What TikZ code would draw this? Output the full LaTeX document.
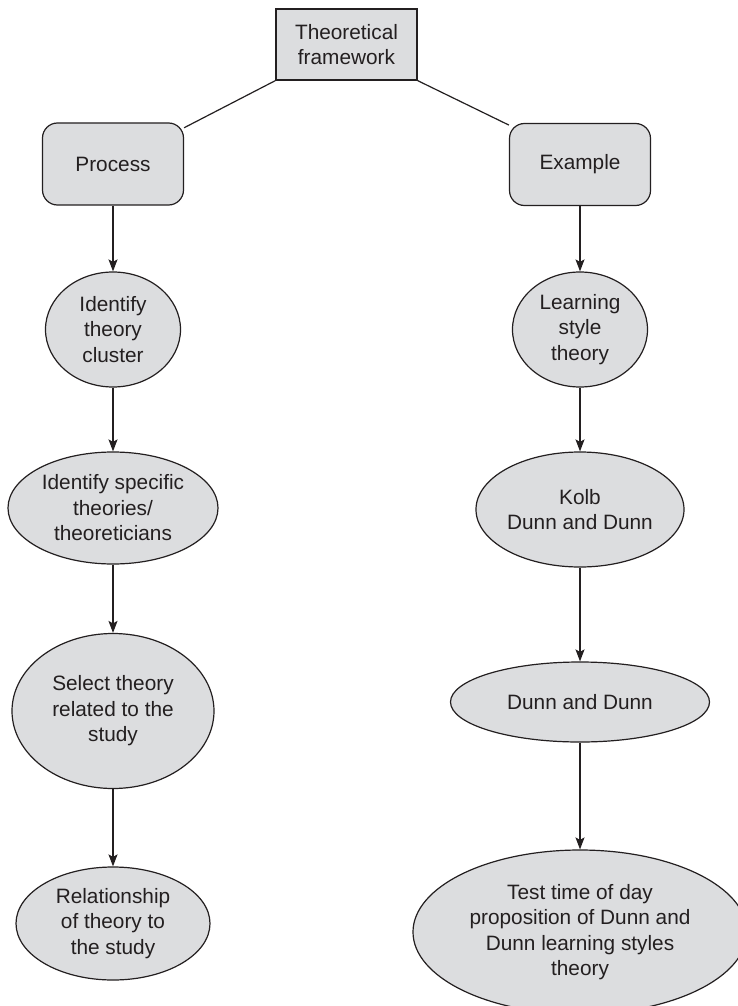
\documentclass[tikz,border=0pt]{standalone}
\usepackage{fontspec}
\setmainfont{Liberation Sans}
\usetikzlibrary{arrows.meta,shapes.geometric}
\definecolor{boxfill}{HTML}{DCDDDF}
\definecolor{ink}{HTML}{231F20}
\begin{document}
\begin{tikzpicture}[x=1pt,y=-1pt,
  every node/.style={font=\fontsize{20.8}{25.5}\selectfont, text=ink, align=center, inner sep=0pt},
  topbox/.style={draw=ink, line width=1.2pt, fill=boxfill, rectangle, minimum width=141pt, minimum height=71pt},
  rbox/.style={draw=ink, line width=1.2pt, fill=boxfill, rectangle, rounded corners=15pt, minimum width=141pt, minimum height=82pt},
  oval/.style={draw=ink, line width=1.2pt, fill=boxfill, ellipse},
  link/.style={draw=ink, line width=1.2pt},
  flow/.style={draw=ink, line width=1.2pt, -{Stealth[length=12pt,width=9pt,inset=2.5pt]}}]
\clip (0,0) rectangle (738,1006);
\fill[white] (0,0) rectangle (738,1006);

\node[topbox] (tf) at (346.5,44.5) {Theoretical\\framework};
\node[rbox] (proc) at (113,164) {Process};
\node[rbox] (ex) at (580,164.5) {Example};

\node[oval, minimum width=135pt, minimum height=115pt] (idc) at (113,329.5) {Identify\\theory\\cluster};
\node[oval, minimum width=210pt, minimum height=112pt] (ids) at (113,508) {Identify specific\\theories/\\theoreticians};
\node[oval, minimum width=202pt, minimum height=155pt] (sel) at (113,711) {Select theory\\related to the\\study};
\node[oval, minimum width=194pt, minimum height=113pt] (rel) at (113,923.5) {Relationship\\of theory to\\the study};

\node[oval, minimum width=135pt, minimum height=115pt] (lst) at (580,329.5) {Learning\\style\\theory};
\node[oval, minimum width=208pt, minimum height=115pt] (kolb) at (580,509.5) {Kolb\\Dunn and Dunn};
\node[oval, minimum width=259pt, minimum height=80pt] (dd) at (580,702) {Dunn and Dunn};
\node[oval, minimum width=334pt, minimum height=164pt] (test) at (580,932) {Test time of day\\proposition of Dunn and\\Dunn learning styles\\theory};

\draw[link] (tf.south west) -- (proc.27);
\draw[link] (tf.south east) -- (ex.151);

\draw[flow] (proc.south) -- (idc.north);
\draw[flow] (idc.south) -- (ids.north);
\draw[flow] (ids.south) -- (sel.north);
\draw[flow] (sel.south) -- (rel.north);

\draw[flow] (ex.south) -- (lst.north);
\draw[flow] (lst.south) -- (kolb.north);
\draw[flow] (kolb.south) -- (dd.north);
\draw[flow] (dd.south) -- (test.north);
\end{tikzpicture}
\end{document}
